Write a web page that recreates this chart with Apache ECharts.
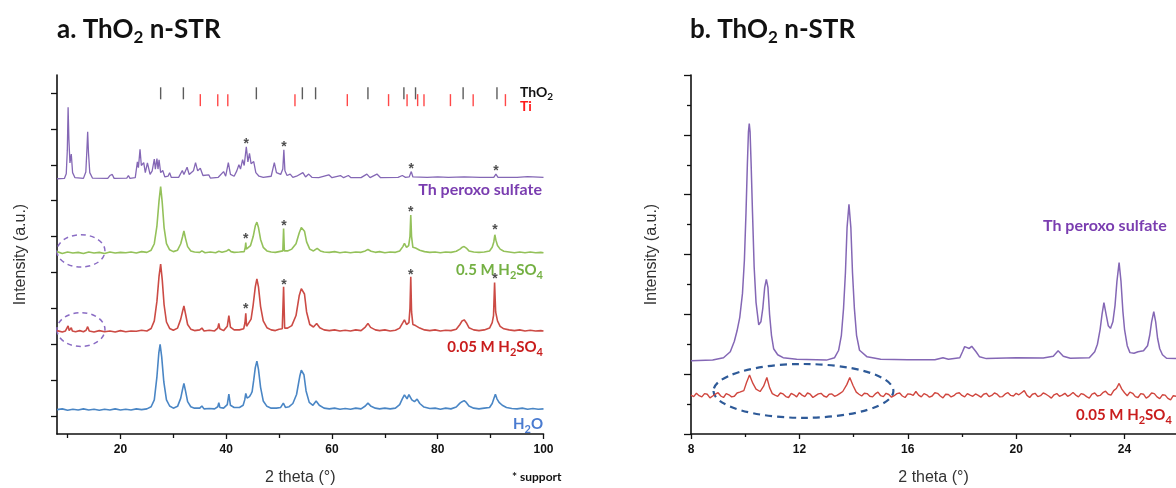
<!DOCTYPE html>
<html>
<head>
<meta charset="utf-8">
<script src="https://cdn.jsdelivr.net/npm/echarts@6/dist/echarts.min.js"></script>
<style>html,body{margin:0;padding:0;background:#fff;}#c{width:1176px;height:488px;}</style>
</head>
<body>
<div id="c"></div>
<script>
// ---------- DATA (left panel: 2 theta 8-100, stacked offsets in a.u.) ----------
const purpleLeft = [[8,7.11],[9.4,7.12],[9.75,7.25],[9.95,7.9],[10.1,9.1],[10.25,8.2],[10.45,7.55],[10.7,7.8],[10.95,7.28],[11.4,7.14],[13.0,7.12],[13.45,7.3],[13.65,7.9],[13.8,8.42],[13.95,7.85],[14.2,7.28],[14.7,7.13],[17.6,7.12],[18.0,7.2],[18.2,7.24],[18.45,7.23],[18.8,7.12],[21.2,7.13],[21.5,7.2],[21.8,7.12],[22.8,7.14],[23.2,7.58],[23.4,7.42],[23.7,7.93],[23.95,7.48],[24.4,7.56],[24.7,7.28],[25.1,7.55],[25.6,7.23],[26.0,7.33],[26.4,7.66],[26.6,7.38],[26.9,7.67],[27.1,7.38],[27.3,7.64],[27.6,7.28],[28.0,7.34],[28.4,7.16],[29.0,7.18],[29.3,7.28],[29.6,7.15],[31.0,7.15],[31.7,7.34],[32.0,7.23],[32.6,7.43],[33.0,7.23],[33.8,7.33],[34.2,7.56],[34.6,7.33],[35.1,7.4],[35.6,7.2],[36.7,7.22],[37.0,7.13],[38.5,7.15],[39.5,7.31],[39.9,7.18],[40.4,7.56],[40.8,7.23],[41.5,7.18],[42.0,7.33],[42.4,7.5],[42.7,7.38],[43.1,7.64],[43.4,7.48],[43.8,8.0],[44.1,7.58],[44.4,7.82],[44.7,7.53],[45.2,7.59],[45.6,7.28],[46.2,7.18],[47.0,7.15],[48.5,7.18],[49.1,7.56],[49.5,7.28],[50.3,7.23],[50.7,7.38],[50.9,7.92],[51.1,7.33],[51.5,7.2],[52.1,7.24],[52.6,7.15],[53.3,7.18],[54.5,7.28],[55.0,7.16],[55.6,7.24],[56.2,7.15],[57.5,7.14],[59.4,7.22],[60.0,7.14],[61.6,7.2],[62.2,7.14],[63.1,7.2],[63.6,7.14],[65.5,7.14],[66.6,7.24],[67.2,7.14],[68.5,7.24],[69.2,7.14],[72.5,7.15],[73.3,7.2],[73.9,7.15],[74.6,7.16],[75.0,7.31],[75.3,7.16],[78.0,7.15],[80.0,7.16],[82.0,7.15],[85.0,7.16],[88.0,7.15],[90.6,7.15],[91.0,7.24],[91.4,7.15],[95.0,7.15],[97.0,7.17],[100,7.15]];

const greenLeft = [[8,5.08],[9,5.03],[10,5.07],[11,5.04],[12,5.06],[13,5.03],[14,5.07],[15,5.04],[16,5.06],[17,5.03],[18,5.07],[19,5.04],[20,5.06],[21,5.05],[22,5.07],[23,5.04],[24,5.08],[25,5.06],[25.8,5.12],[26.4,5.3],[26.9,5.8],[27.3,6.5],[27.6,6.89],[27.9,6.45],[28.25,5.75],[28.7,5.3],[29.3,5.13],[30.0,5.08],[30.8,5.12],[31.4,5.3],[31.75,5.5],[32.0,5.66],[32.3,5.45],[32.7,5.22],[33.3,5.1],[34.0,5.07],[35.0,5.06],[35.4,5.1],[36.0,5.05],[37.0,5.07],[38.0,5.05],[38.6,5.09],[39.2,5.06],[40.1,5.1],[40.5,5.14],[40.9,5.08],[41.5,5.06],[42.5,5.07],[43.4,5.08],[43.6,5.2],[43.7,5.33],[43.8,5.15],[44.1,5.12],[44.6,5.25],[45.1,5.5],[45.5,5.8],[45.8,5.9],[46.1,5.75],[46.5,5.42],[47.0,5.2],[47.7,5.1],[48.5,5.07],[49.3,5.06],[50.0,5.08],[50.7,5.1],[50.85,5.72],[51.0,5.1],[51.6,5.1],[52.4,5.15],[53.2,5.3],[53.8,5.6],[54.2,5.75],[54.5,5.77],[54.8,5.65],[55.2,5.35],[55.8,5.15],[56.5,5.1],[57.2,5.17],[57.8,5.1],[58.5,5.07],[59.5,5.06],[60.5,5.08],[61.5,5.05],[62.5,5.07],[63.5,5.05],[64.5,5.07],[65.5,5.06],[66.3,5.1],[66.8,5.14],[67.4,5.09],[68.2,5.06],[69.0,5.08],[70.0,5.05],[71.0,5.07],[72.0,5.06],[72.8,5.1],[73.4,5.22],[73.7,5.31],[74.1,5.2],[74.5,5.25],[74.75,5.5],[74.9,6.1],[75.05,5.5],[75.3,5.2],[75.8,5.18],[76.1,5.22],[76.6,5.12],[77.5,5.08],[78.5,5.06],[79.5,5.07],[80.5,5.05],[81.5,5.07],[82.5,5.06],[83.5,5.09],[84.2,5.15],[84.6,5.2],[85.0,5.22],[85.4,5.18],[85.9,5.1],[86.8,5.07],[87.8,5.06],[88.8,5.07],[89.8,5.1],[90.3,5.2],[90.6,5.35],[90.8,5.55],[91.0,5.4],[91.3,5.25],[91.8,5.15],[92.5,5.09],[93.5,5.07],[94.5,5.05],[95.5,5.07],[96.5,5.05],[97.5,5.07],[98.5,5.05],[99.5,5.06],[100,5.05]];

const redLeft = [[8,2.88],[9,2.84],[9.6,2.87],[9.9,2.92],[10.1,3.01],[10.3,2.88],[10.5,2.86],[10.7,2.96],[10.9,2.87],[11.5,2.85],[12.3,2.88],[13.0,2.85],[13.5,2.89],[13.8,2.99],[14.1,2.87],[15,2.84],[16,2.88],[17,2.85],[18,2.87],[19,2.84],[20,2.88],[21,2.85],[22,2.87],[23,2.86],[24,2.89],[25,2.87],[25.8,2.94],[26.4,3.15],[26.9,3.7],[27.3,4.4],[27.6,4.73],[27.9,4.3],[28.25,3.6],[28.7,3.12],[29.3,2.94],[30.0,2.89],[30.8,2.95],[31.4,3.2],[31.75,3.42],[32.0,3.57],[32.3,3.35],[32.7,3.05],[33.3,2.92],[34.0,2.88],[35.0,2.9],[35.4,2.95],[35.8,2.87],[36.8,2.89],[37.8,2.87],[38.4,2.95],[38.6,3.08],[38.8,2.93],[39.5,2.88],[40.2,3.0],[40.5,3.3],[40.8,2.98],[41.5,2.9],[42.5,2.9],[43.3,2.93],[43.55,3.1],[43.7,3.36],[43.85,3.0],[44.2,3.0],[44.7,3.2],[45.1,3.6],[45.5,4.1],[45.8,4.32],[46.1,4.1],[46.5,3.55],[47.0,3.15],[47.7,2.96],[48.5,2.9],[49.3,2.88],[50.0,2.92],[50.6,2.93],[50.85,4.1],[51.05,2.95],[51.6,2.95],[52.4,3.02],[53.2,3.3],[53.8,3.85],[54.2,4.05],[54.5,4.08],[54.8,3.9],[55.2,3.4],[55.8,3.05],[56.5,2.98],[57.1,3.08],[57.7,2.96],[58.5,2.9],[59.5,2.88],[60.5,2.9],[61.5,2.87],[62.5,2.89],[63.5,2.87],[64.5,2.9],[65.5,2.88],[66.3,2.98],[66.8,3.08],[67.3,2.97],[68.2,2.9],[69.0,2.88],[70.0,2.9],[71.0,2.87],[72.0,2.89],[72.8,2.95],[73.4,3.1],[73.7,3.18],[74.1,3.05],[74.55,3.1],[74.75,3.5],[74.9,4.38],[75.05,3.4],[75.3,3.05],[75.8,3.02],[76.1,3.04],[76.6,2.95],[77.5,2.9],[78.5,2.88],[79.5,2.9],[80.5,2.87],[81.5,2.89],[82.5,2.88],[83.5,2.92],[84.2,3.05],[84.6,3.15],[85.0,3.18],[85.4,3.1],[85.9,2.96],[86.8,2.9],[87.8,2.88],[88.8,2.9],[89.8,2.95],[90.3,3.1],[90.55,3.3],[90.75,4.22],[90.95,3.4],[91.3,3.15],[91.8,3.0],[92.5,2.93],[93.5,2.9],[94.5,2.88],[95.5,2.9],[96.5,2.87],[97.5,2.89],[98.5,2.87],[99.5,2.88],[100,2.87]];

const blueLeft = [[8,0.68],[9,0.7],[10,0.66],[11,0.69],[12,0.67],[13,0.7],[14,0.67],[15,0.69],[16,0.66],[17,0.69],[18,0.67],[19,0.7],[20,0.67],[21,0.69],[22,0.67],[23,0.7],[24,0.68],[25,0.7],[25.8,0.76],[26.4,0.95],[26.9,1.6],[27.25,2.25],[27.5,2.5],[27.8,2.15],[28.2,1.45],[28.7,0.95],[29.3,0.78],[30.0,0.72],[30.8,0.77],[31.4,1.0],[31.75,1.25],[32.0,1.41],[32.3,1.2],[32.7,0.9],[33.3,0.76],[34.0,0.72],[35.0,0.72],[35.4,0.78],[35.8,0.7],[36.8,0.71],[37.8,0.7],[38.4,0.76],[38.6,0.87],[38.8,0.74],[39.5,0.72],[40.2,0.82],[40.5,1.11],[40.8,0.8],[41.5,0.74],[42.5,0.74],[43.2,0.8],[43.5,0.95],[43.7,1.13],[43.95,1.0],[44.4,1.04],[44.7,1.12],[44.9,1.18],[45.2,1.5],[45.5,1.85],[45.8,2.03],[46.1,1.8],[46.5,1.3],[47.0,0.92],[47.7,0.77],[48.5,0.72],[49.5,0.72],[50.3,0.74],[50.8,0.86],[51.2,0.74],[51.9,0.76],[52.6,0.85],[53.3,1.1],[53.9,1.6],[54.2,1.78],[54.4,1.83],[54.7,1.65],[55.1,1.2],[55.7,0.88],[56.4,0.8],[57.0,0.92],[57.6,0.8],[58.5,0.72],[59.5,0.7],[60.5,0.72],[61.5,0.69],[62.5,0.71],[63.5,0.69],[64.5,0.72],[65.5,0.7],[66.3,0.78],[66.8,0.86],[67.4,0.77],[68.2,0.72],[69.0,0.7],[70.0,0.72],[71.0,0.7],[72.0,0.72],[72.8,0.82],[73.3,0.98],[73.7,1.09],[74.2,0.98],[74.55,1.1],[74.8,1.15],[75.1,0.95],[75.6,0.9],[76.1,0.97],[76.6,0.85],[77.4,0.75],[78.5,0.71],[79.5,0.72],[80.5,0.69],[81.5,0.72],[82.5,0.7],[83.5,0.75],[84.2,0.86],[84.6,0.9],[85.0,0.93],[85.4,0.88],[85.9,0.78],[86.8,0.72],[87.8,0.7],[88.8,0.72],[89.8,0.74],[90.3,0.85],[90.6,0.98],[90.9,1.11],[91.2,0.98],[91.6,0.88],[92.2,0.8],[93.0,0.74],[94.0,0.71],[95.0,0.7],[96.0,0.72],[97.0,0.69],[98.0,0.71],[99.0,0.69],[100,0.7]];

// support (*) markers
const starsLeft = [[43.8,8.17],[50.9,8.08],[75.0,7.47],[91.0,7.4],
                   [43.7,5.5],[50.9,5.88],[74.9,6.27],[90.8,5.77],
                   [43.7,3.55],[50.9,4.24],[74.9,4.5],[90.8,4.4]];

// reference peak positions (2 theta)
const thoRefPeaks = [27.6,31.9,45.7,54.4,56.9,66.8,73.6,75.8,84.8,91.2];
const tiRefPeaks  = [35.1,38.4,40.3,53.0,62.9,70.7,74.2,76.2,77.4,82.4,86.7,92.8];
const thoRefLevel = 9.49;
const tiRefLevel  = 9.3;

// highlighted regions [center 2theta, center a.u., half width, half height]
const ellipsesLeft = [[12.53,5.10,4.54,0.45],[12.53,2.91,4.54,0.47]];

// tick labels
const leftMajorTicks = [20,40,60,80,100];
const leftMinorTicks = [10,30,50,70,90];
const rightMajorTicks = [8,12,16,20,24];
const rightMinorTicks = [10,14,18,22];

// ---------- DATA (right panel: zoom 8-26) ----------
const purpleRight = [[8.0,2.45],[8.8,2.47],[9.2,2.55],[9.45,2.75],[9.6,3.1],[9.7,3.45],[9.8,3.9],[9.9,4.7],[9.97,5.8],[10.03,7.4],[10.08,9.0],[10.12,10.1],[10.15,10.38],[10.18,10.1],[10.22,9.0],[10.27,7.4],[10.33,5.6],[10.4,4.4],[10.5,3.65],[10.58,3.75],[10.65,4.2],[10.72,4.9],[10.78,5.17],[10.84,4.9],[10.9,4.0],[10.97,3.3],[11.05,2.85],[11.2,2.65],[11.4,2.55],[11.9,2.5],[13.0,2.47],[13.3,2.55],[13.45,2.8],[13.55,3.3],[13.63,4.2],[13.7,5.4],[13.76,6.9],[13.83,7.68],[13.9,6.9],[13.96,5.4],[14.03,4.2],[14.11,3.3],[14.22,2.8],[14.5,2.58],[15.0,2.5],[16.0,2.48],[17.0,2.48],[17.3,2.55],[17.5,2.5],[17.92,2.55],[18.02,2.75],[18.1,2.92],[18.15,2.95],[18.27,2.86],[18.36,2.93],[18.42,2.93],[18.52,2.75],[18.65,2.58],[18.9,2.52],[20.0,2.55],[21.0,2.54],[21.37,2.6],[21.55,2.78],[21.74,2.6],[22.0,2.53],[22.7,2.55],[22.9,2.75],[23.0,3.0],[23.1,3.5],[23.17,4.0],[23.24,4.39],[23.31,4.05],[23.4,3.62],[23.48,3.53],[23.57,3.75],[23.65,4.3],[23.72,5.1],[23.8,5.73],[23.87,5.1],[23.94,4.1],[24.0,3.5],[24.1,2.95],[24.2,2.72],[24.35,2.7],[24.5,2.75],[24.7,2.78],[24.85,2.95],[24.93,3.3],[25.0,3.75],[25.08,4.09],[25.15,3.75],[25.22,3.2],[25.3,2.85],[25.4,2.65],[25.55,2.53],[25.9,2.52]];

const redRight = [[8.0,1.30],[8.1,1.25],[8.2,1.36],[8.3,1.28],[8.4,1.24],[8.5,1.35],[8.6,1.33],[8.7,1.21],[8.8,1.27],[8.9,1.33],[9.0,1.38],[9.1,1.27],[9.2,1.22],[9.3,1.35],[9.4,1.31],[9.5,1.24],[9.6,1.26],[9.7,1.37],[9.8,1.40],[9.95,1.45],[10.05,1.72],[10.16,1.97],[10.28,1.70],[10.4,1.50],[10.55,1.42],[10.68,1.60],[10.8,1.89],[10.9,1.55],[11.0,1.35],[11.1,1.30],[11.2,1.26],[11.3,1.37],[11.4,1.34],[11.5,1.25],[11.6,1.22],[11.7,1.36],[11.8,1.31],[11.9,1.24],[12.0,1.38],[12.1,1.30],[12.2,1.25],[12.3,1.37],[12.4,1.33],[12.5,1.22],[12.6,1.28],[12.7,1.34],[12.8,1.36],[12.9,1.27],[13.0,1.23],[13.1,1.33],[13.2,1.34],[13.3,1.26],[13.4,1.30],[13.5,1.36],[13.6,1.42],[13.75,1.65],[13.86,1.89],[13.98,1.62],[14.1,1.40],[14.2,1.33],[14.3,1.27],[14.4,1.36],[14.5,1.35],[14.6,1.26],[14.7,1.24],[14.8,1.34],[14.9,1.40],[15.0,1.28],[15.1,1.25],[15.2,1.36],[15.3,1.32],[15.4,1.23],[15.5,1.28],[15.6,1.35],[15.7,1.37],[15.8,1.27],[15.9,1.22],[16.0,1.34],[16.1,1.33],[16.2,1.29],[16.3,1.42],[16.4,1.30],[16.5,1.24],[16.6,1.35],[16.7,1.31],[16.8,1.23],[16.9,1.27],[17.0,1.38],[17.1,1.36],[17.2,1.27],[17.3,1.21],[17.4,1.33],[17.5,1.32],[17.6,1.24],[17.7,1.28],[17.8,1.36],[17.9,1.38],[18.0,1.29],[18.1,1.24],[18.2,1.35],[18.3,1.30],[18.4,1.26],[18.5,1.34],[18.6,1.29],[18.7,1.23],[18.8,1.33],[18.9,1.36],[19.0,1.25],[19.1,1.29],[19.2,1.37],[19.3,1.33],[19.4,1.24],[19.5,1.25],[19.6,1.34],[19.7,1.38],[19.8,1.29],[19.9,1.27],[20.0,1.36],[20.1,1.31],[20.2,1.38],[20.3,1.45],[20.4,1.29],[20.5,1.22],[20.6,1.33],[20.7,1.36],[20.8,1.25],[20.9,1.28],[21.0,1.37],[21.1,1.33],[21.2,1.27],[21.3,1.20],[21.4,1.31],[21.5,1.35],[21.6,1.26],[21.7,1.30],[21.8,1.36],[21.9,1.26],[22.0,1.31],[22.1,1.39],[22.2,1.30],[22.3,1.24],[22.4,1.35],[22.5,1.32],[22.6,1.25],[22.7,1.20],[22.8,1.33],[22.9,1.37],[23.0,1.27],[23.1,1.29],[23.2,1.38],[23.3,1.43],[23.4,1.33],[23.5,1.30],[23.6,1.45],[23.7,1.52],[23.8,1.69],[23.9,1.50],[24.0,1.38],[24.1,1.28],[24.2,1.40],[24.3,1.36],[24.4,1.25],[24.5,1.22],[24.6,1.35],[24.7,1.33],[24.8,1.20],[24.9,1.26],[25.0,1.37],[25.1,1.35],[25.2,1.24],[25.3,1.18],[25.4,1.31],[25.5,1.30],[25.6,1.19],[25.7,1.14],[25.8,1.28],[25.9,1.26]];

const ellipsesRight = [[12.15,1.44,3.32,0.90]];

// ---------- CHART ----------
const SANS = 'Liberation Sans';
const CAL = 'Lato';
const C_PURPLE = '#8467b5', C_GREEN = '#94c15a', C_RED = '#cc4b45', C_BLUE = '#4a86c5';

function ellipseItem(color, lw, dash) {
  return function (params, api) {
    const c = api.coord([api.value(0), api.value(1)]);
    const s = api.size([api.value(2), api.value(3)]);
    return {
      type: 'path',
      shape: { pathData: 'M0,50 A50,50 0 1,0 100,50 A50,50 0 1,0 0,50 Z',
               x: c[0] - s[0], y: c[1] - s[1], width: 2 * s[0], height: 2 * s[1], layout: 'cover' },
      style: { fill: 'none', stroke: color, lineWidth: lw, lineDash: dash }
    };
  };
}

const axisLineStyle = { onZero: false, lineStyle: { color: '#111', width: 1.6 } };
const tickLabel = { fontFamily: SANS, fontWeight: 'bold', fontSize: 12, color: '#111', margin: 10 };
const axisNameStyle = { fontFamily: SANS, fontSize: 16, color: '#333' };

const refTicks = thoRefPeaks.map(v => [v, thoRefLevel]);
const refTicksTi = tiRefPeaks.map(v => [v, tiRefLevel]);

function txt(x, y, text, color, size, align, richSize, pad, family, weight) {
  return {
    type: 'text', x: x, y: y, silent: true,
    style: {
      text: text, fill: color, fontSize: size, fontFamily: family || CAL, fontWeight: weight || 'bold',
      align: align, verticalAlign: 'middle',
      rich: { sub: { fontSize: richSize || size * 0.7, fontFamily: family || CAL, fontWeight: weight || 'bold', fill: color, padding: [pad || 0, 0, 0, 0] } }
    }
  };
}

const option = {
  animation: false,
  backgroundColor: '#fff',
  grid: [
    { left: 57, top: 75, width: 486.5, height: 359, outerBoundsMode: 'none' },
    { left: 691, top: 75, right: 0, height: 359, outerBoundsMode: 'none' }
  ],
  xAxis: [
    { gridIndex: 0, type: 'value', min: 8, max: 100, position: 'bottom',
      axisLine: axisLineStyle, splitLine: { show: false },
      axisTick: { show: true, length: 5, customValues: leftMajorTicks, lineStyle: { color: '#111', width: 1.3 } },
      axisLabel: Object.assign({ customValues: leftMajorTicks }, tickLabel),
      name: '2 theta (°)', nameLocation: 'middle', nameGap: 36, nameTextStyle: axisNameStyle },
    { gridIndex: 0, type: 'value', min: 8, max: 100, position: 'bottom',
      axisLine: { show: false, onZero: false }, splitLine: { show: false }, axisLabel: { show: false },
      axisTick: { show: true, length: 4, customValues: leftMinorTicks, lineStyle: { color: '#111', width: 1.3 } } },
    { gridIndex: 1, type: 'value', min: 8, max: 25.9, position: 'bottom',
      axisLine: axisLineStyle, splitLine: { show: false },
      axisTick: { show: true, length: 5, customValues: rightMajorTicks, lineStyle: { color: '#111', width: 1.3 } },
      axisLabel: Object.assign({ customValues: rightMajorTicks }, tickLabel),
      name: '2 theta (°)', nameLocation: 'middle', nameGap: 36, nameTextStyle: axisNameStyle },
    { gridIndex: 1, type: 'value', min: 8, max: 25.9, position: 'bottom',
      axisLine: { show: false, onZero: false }, splitLine: { show: false }, axisLabel: { show: false },
      axisTick: { show: true, length: 3, customValues: rightMinorTicks, lineStyle: { color: '#111', width: 1.3 } } }
  ],
  yAxis: [
    { gridIndex: 0, type: 'value', min: 0, max: 10, interval: 1,
      axisLine: { show: true, onZero: false, lineStyle: { color: '#111', width: 1.6 } },
      splitLine: { show: false }, minorSplitLine: { show: false },
      axisTick: { show: false }, axisLabel: { show: false },
      minorTick: { show: true, splitNumber: 2, length: 6, lineStyle: { color: '#111', width: 1.3 } },
      name: 'Intensity (a.u.)', nameLocation: 'middle', nameGap: 28, nameTextStyle: axisNameStyle },
    { gridIndex: 1, type: 'value', min: 0, max: 12, interval: 2,
      axisLine: { show: true, onZero: false, lineStyle: { color: '#111', width: 1.6 } },
      splitLine: { show: false }, minorSplitLine: { show: false },
      axisTick: { show: true, length: 7, lineStyle: { color: '#111', width: 1.3 } },
      axisLabel: { show: false },
      minorTick: { show: true, splitNumber: 2, length: 4, lineStyle: { color: '#111', width: 1.3 } },
      name: 'Intensity (a.u.)', nameLocation: 'middle', nameGap: 31, nameTextStyle: axisNameStyle }
  ],
  series: [
    { name: 'Th peroxo sulfate', type: 'line', xAxisIndex: 0, yAxisIndex: 0, data: purpleLeft, symbol: 'none',
      lineStyle: { color: C_PURPLE, width: 1.3 } },
    { name: '0.5 M H2SO4', type: 'line', xAxisIndex: 0, yAxisIndex: 0, data: greenLeft, symbol: 'none',
      lineStyle: { color: C_GREEN, width: 1.6 } },
    { name: '0.05 M H2SO4', type: 'line', xAxisIndex: 0, yAxisIndex: 0, data: redLeft, symbol: 'none',
      lineStyle: { color: C_RED, width: 1.6 } },
    { name: 'H2O', type: 'line', xAxisIndex: 0, yAxisIndex: 0, data: blueLeft, symbol: 'none',
      lineStyle: { color: C_BLUE, width: 1.6 } },
    { name: 'support', type: 'scatter', xAxisIndex: 0, yAxisIndex: 0, data: starsLeft,
      symbol: 'circle', symbolSize: 0.1, itemStyle: { color: 'rgba(0,0,0,0)' },
      label: { show: true, position: 'inside', formatter: '*', fontFamily: SANS, fontWeight: 'bold', fontSize: 14, color: '#222', offset: [0, 3] } },
    { name: 'ThO2 ref', type: 'scatter', xAxisIndex: 0, yAxisIndex: 0, data: refTicks,
      symbol: 'rect', symbolSize: [1.4, 12], itemStyle: { color: '#333' } },
    { name: 'Ti ref', type: 'scatter', xAxisIndex: 0, yAxisIndex: 0, data: refTicksTi,
      symbol: 'rect', symbolSize: [1.4, 12], itemStyle: { color: '#ff1a1a' } },
    { name: 'ellipsesLeft', type: 'custom', xAxisIndex: 0, yAxisIndex: 0, data: ellipsesLeft, clip: false,
      encode: { x: 0, y: 1 }, renderItem: ellipseItem('#8a6cc4', 1.5, [5, 4]) },
    { name: 'Th peroxo sulfate (b)', type: 'line', xAxisIndex: 2, yAxisIndex: 1, data: purpleRight, symbol: 'none',
      lineStyle: { color: C_PURPLE, width: 1.5 } },
    { name: '0.05 M H2SO4 (b)', type: 'line', xAxisIndex: 2, yAxisIndex: 1, data: redRight, symbol: 'none',
      lineStyle: { color: '#d0473f', width: 1.4 } },
    { name: 'ellipsesRight', type: 'custom', xAxisIndex: 2, yAxisIndex: 1, data: ellipsesRight, clip: false,
      encode: { x: 0, y: 1 }, renderItem: ellipseItem('#2e5a98', 2.2, [7, 5]) }
  ],
  graphic: [
    txt(57, 30, 'a. ThO{sub|2} n-STR', '#111', 26, 'left', 17, 16),
    txt(690, 30, 'b. ThO{sub|2} n-STR', '#111', 26, 'left', 17, 16),
    txt(520, 92, 'ThO{sub|2}', '#111', 14, 'left', 10, 10),
    txt(520, 106, 'Ti', '#ff1a1a', 14, 'left'),
    txt(542, 190, 'Th peroxo sulfate', '#7a3db0', 16, 'right'),
    txt(543, 270, '0.5 M H{sub|2}SO{sub|4}', '#74b043', 15, 'right', 11, 11),
    txt(543, 347, '0.05 M H{sub|2}SO{sub|4}', '#c91d1d', 15, 'right', 11, 11),
    txt(543, 424, 'H{sub|2}O', '#4a7bd0', 15, 'right', 11, 11),
    txt(512, 477, '* support', '#111', 12, 'left'),
    txt(1043, 226, 'Th peroxo sulfate', '#7a3db0', 16, 'left'),
    txt(1076, 415, '0.05 M H{sub|2}SO{sub|4}', '#c91d1d', 15, 'left', 11, 11)
  ]
};

const chart = echarts.init(document.getElementById('c'), null, { renderer: 'canvas' });
chart.setOption(option);
</script>
</body>
</html>
